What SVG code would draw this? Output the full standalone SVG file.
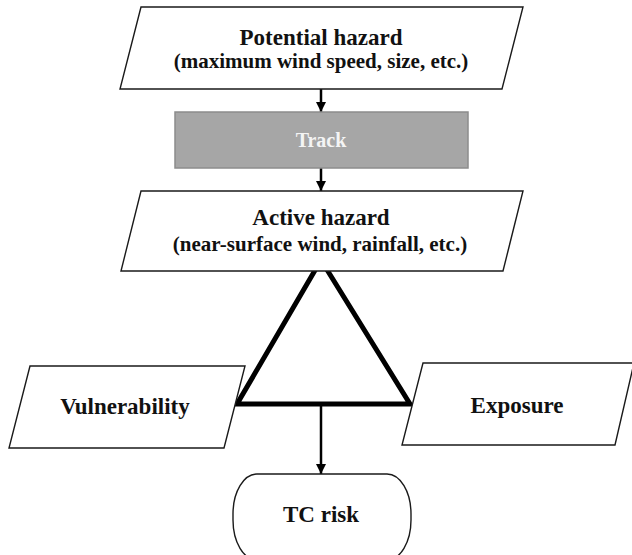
<svg xmlns="http://www.w3.org/2000/svg" width="632" height="555" viewBox="0 0 632 555">
<defs>
<style>
.shape{fill:#fff;stroke:#1a1a1a;stroke-width:1.4}
.t{font-family:"Liberation Serif","Times New Roman",serif;font-weight:bold;fill:#111;text-anchor:middle}
.big{font-size:23px}
.sub{font-size:21px}
.conn{stroke:#000;stroke-width:2.5;fill:none}
</style>
<marker id="ah" viewBox="0 0 10 10" refX="10" refY="5" markerWidth="4" markerHeight="4" orient="auto" markerUnits="strokeWidth">
<path d="M0,0 L10,5 L0,10 z" fill="#000"/>
</marker>
</defs>
<g id="connectors">
<line class="conn" x1="321" y1="89" x2="321" y2="112" marker-end="url(#ah)"/>
<line class="conn" x1="321" y1="168" x2="321" y2="191" marker-end="url(#ah)"/>
<polygon points="321,260 237,404 410,404" fill="none" stroke="#000" stroke-width="5" stroke-linejoin="miter"/>
<line class="conn" x1="321" y1="404" x2="321" y2="474" marker-end="url(#ah)"/>
</g>
<g id="potential-hazard">
<polygon class="shape" points="141,7 523,7 502,89 120,89"/>
<text class="t big" x="321" y="45">Potential hazard</text>
<text class="t sub" x="321" y="68">(maximum wind speed, size, etc.)</text>
</g>
<g id="track">
<rect x="175" y="112" width="293" height="56" fill="#a6a6a6" stroke="#8c8c8c" stroke-width="1.5"/>
<text class="t" x="321" y="147" style="font-size:20px;fill:#f4f4f4">Track</text>
</g>
<g id="active-hazard">
<polygon class="shape" points="141,191 523,191 503,271 121,271"/>
<text class="t big" x="321" y="225">Active hazard</text>
<text class="t sub" x="320" y="251">(near-surface wind, rainfall, etc.)</text>
</g>
<g id="vulnerability">
<polygon class="shape" points="30,366 245,366 224,448 9,448"/>
<text class="t big" x="125" y="414">Vulnerability</text>
</g>
<g id="exposure">
<polygon class="shape" points="423,363 634,363 615,445 402,445"/>
<text class="t big" x="517" y="413">Exposure</text>
</g>
<g id="tc-risk">
<rect class="shape" x="233" y="474" width="178" height="86" rx="24" ry="40"/>
<text class="t big" x="321" y="522">TC risk</text>
</g>
</svg>
